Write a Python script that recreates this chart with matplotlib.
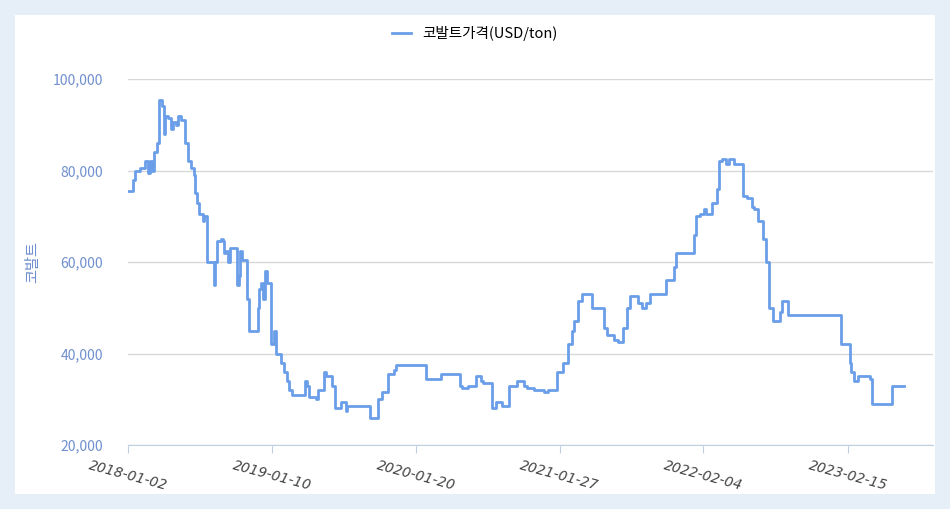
import matplotlib
matplotlib.use("Agg")
import matplotlib.pyplot as plt
from matplotlib.patches import Rectangle
import numpy as np
import datetime as dt

plt.rcParams['font.family'] = ['Noto Sans CJK KR', 'DejaVu Sans']

start = dt.date(2018, 1, 2)
tick_dates = ["2018-01-02", "2019-01-10", "2020-01-20", "2021-01-27", "2022-02-04", "2023-02-15"]
# day offsets from 2018-01-02 and price (USD/ton)
day_offsets = [0, 10, 13, 18, 31, 44, 52, 57, 62, 68, 75, 81, 88, 94, 96, 104, 112, 117, 125, 130, 138, 148, 156, 164, 171, 174, 179, 184, 195, 197, 200, 205, 223, 226, 231, 242, 247, 249, 255, 260, 265, 283, 288, 291, 296, 301, 309, 314, 338, 340, 346, 348, 350, 356, 361, 366, 371, 379, 384, 397, 405, 413, 418, 426, 431, 460, 465, 470, 488, 493, 509, 514, 519, 530, 538, 548, 553, 561, 566, 569, 628, 633, 649, 660, 670, 675, 691, 696, 761, 774, 813, 818, 862, 867, 883, 890, 903, 916, 921, 942, 946, 956, 964, 971, 979, 990, 1000, 1010, 1018, 1029, 1036, 1054, 1080, 1091, 1106, 1115, 1130, 1143, 1153, 1158, 1169, 1179, 1189, 1205, 1213, 1236, 1244, 1262, 1273, 1285, 1296, 1304, 1314, 1325, 1335, 1345, 1356, 1390, 1397, 1408, 1418, 1423, 1470, 1475, 1486, 1488, 1496, 1501, 1512, 1517, 1530, 1535, 1543, 1553, 1562, 1574, 1582, 1598, 1608, 1621, 1626, 1636, 1649, 1657, 1662, 1665, 1673, 1675, 1693, 1699, 1704, 1714, 1844, 1852, 1875, 1877, 1885, 1891, 1896, 1927, 1932, 1979, 1984, 2015, 2020, 2091]
prices = [75500, 75500, 78000, 80000, 80500, 82000, 79500, 82000, 80000, 84000, 86000, 95500, 94000, 88000, 92000, 91500, 89000, 90500, 90000, 92000, 91000, 86000, 82000, 80500, 79000, 75000, 73000, 70500, 69000, 70000, 70000, 60000, 55000, 60000, 64500, 65000, 64500, 62000, 62500, 60000, 63000, 55000, 57000, 62500, 60500, 60500, 52000, 45000, 50000, 54000, 55500, 55500, 52000, 58000, 55500, 55500, 42000, 45000, 40000, 38000, 36000, 34000, 32000, 31000, 31000, 34000, 33000, 30500, 30000, 32000, 36000, 35000, 35000, 33000, 28000, 28000, 29500, 29500, 27500, 28500, 26000, 26000, 30000, 31500, 31500, 35500, 36500, 37500, 37500, 34500, 35500, 35500, 33000, 32500, 33000, 33000, 35000, 34000, 33500, 33500, 28000, 29500, 29500, 28500, 28500, 33000, 33000, 34000, 34000, 33000, 32500, 32000, 31500, 32000, 32000, 36000, 38000, 42000, 45000, 47000, 51500, 53000, 53000, 50000, 50000, 45500, 44000, 43000, 42500, 45500, 50000, 52500, 52500, 51000, 50000, 51000, 53000, 53000, 56000, 56000, 59000, 62000, 66000, 70000, 70500, 70500, 71500, 70500, 70500, 73000, 76000, 82000, 82500, 81500, 82500, 81500, 81500, 74500, 74000, 72000, 71500, 69000, 65000, 60000, 60000, 50000, 50000, 47000, 49000, 51500, 51500, 48500, 48500, 42000, 38000, 36000, 34000, 34000, 35000, 34500, 29000, 29000, 33000, 33000]

n = min(len(day_offsets), len(prices))
dates = [start + dt.timedelta(days=d) for d in day_offsets[:n]]
prices = prices[:n]

fig = plt.figure(figsize=(9.5, 5.09), dpi=100, facecolor="#e6eef8")
fig.patches.append(Rectangle((15/950, 15/509), 920/950, 479/509, transform=fig.transFigure,
                             facecolor="white", edgecolor="none", zorder=-10))
ax = fig.add_axes([128/950, 64/509, 805/950, 366/509])
ax.set_facecolor("none")
ax.plot(dates, prices, drawstyle="steps-post", color="#6a9ee8", lw=2, label="코발트가격(USD/ton)")
ax.set_ylim(20000, 100000)
ax.set_xlim(start, start + dt.timedelta(days=2091))
ax.set_yticks(np.arange(20000, 100001, 20000))
ax.yaxis.set_major_formatter(matplotlib.ticker.FuncFormatter(lambda v, p: f"{int(v):,}"))
ax.grid(axis="y", color="#d8d8d8", lw=1)
ax.set_axisbelow(True)
for s in ["top", "right", "left"]:
    ax.spines[s].set_visible(False)
ax.spines["bottom"].set_color("#c0d0e0")
ax.tick_params(axis="y", length=0, labelcolor="#6f8fcf", labelsize=10, pad=18)
td = [dt.date.fromisoformat(t) for t in tick_dates]
ax.set_xticks(td)
ax.set_xticklabels(tick_dates, rotation=-15, ha="center", style="italic", color="#444444", fontsize=10,
                   family=["DejaVu Sans"])
ax.tick_params(axis="x", color="#c0d0e0", length=6)
ax.set_ylabel("코발트", color="#6f8fcf", fontsize=11, labelpad=8)
fig.legend(loc="upper center", bbox_to_anchor=(0.5, 0.975), frameon=False, fontsize=10.5,
           handlelength=1.3)
fig.savefig("out.png", dpi=100, facecolor=fig.get_facecolor())
